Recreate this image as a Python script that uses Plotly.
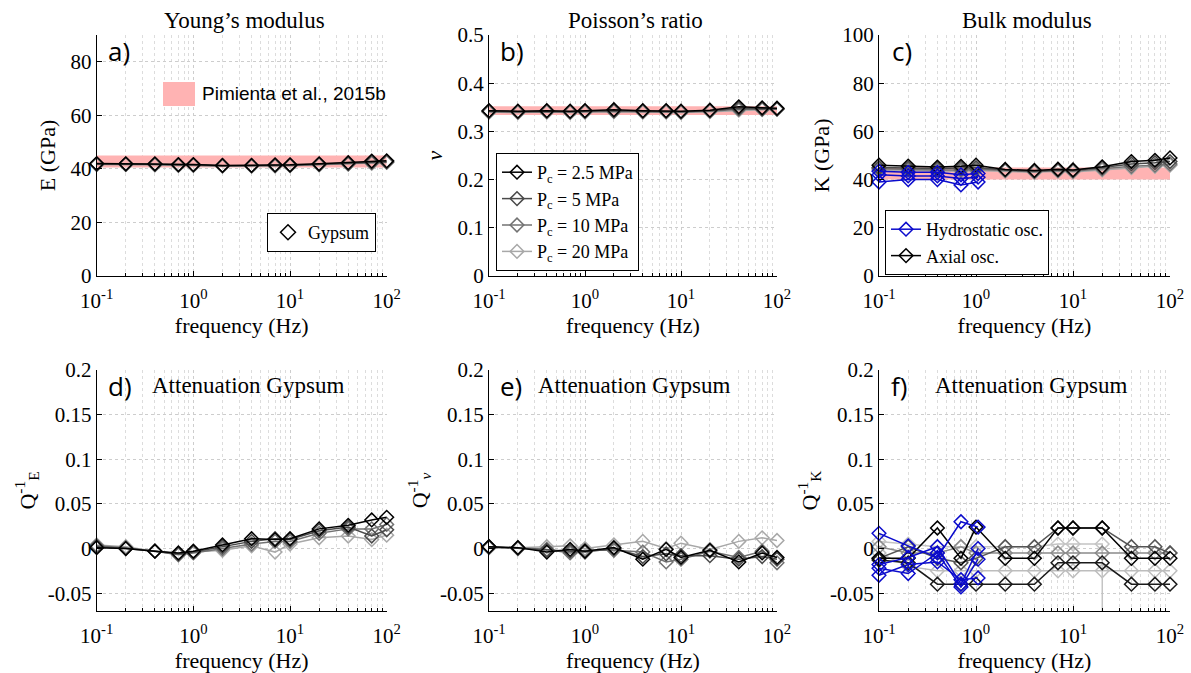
import plotly.graph_objects as go

# ---------------- data ----------------
freq = [0.1, 0.2, 0.4, 0.7, 1.0, 2, 4, 7, 10, 20, 40, 70, 100]
freq_h = [0.1, 0.2, 0.4, 0.7, 1.05]
band_x = [0.1, 100]

pressures = ["2.5", "5", "10", "20"]

# Young's modulus (GPa)
E_25 = [42.0, 41.9, 41.9, 41.6, 41.6, 41.3, 41.3, 41.5, 41.5, 41.9, 42.3, 42.9, 43.0]
E_5 = [41.8, 41.8, 41.7, 41.5, 41.5, 41.2, 41.2, 41.3, 41.4, 41.7, 42.0, 42.5, 42.7]
E_10 = [41.7, 41.7, 41.6, 41.4, 41.4, 41.1, 41.1, 41.2, 41.3, 41.6, 41.9, 42.3, 42.5]
E_20 = [41.6, 41.6, 41.5, 41.3, 41.3, 41.0, 41.0, 41.1, 41.2, 41.5, 41.8, 42.1, 42.4]
E_band = [40.5, 45.0]

# Poisson's ratio
nu_25 = [0.343, 0.342, 0.343, 0.342, 0.343, 0.345, 0.343, 0.343, 0.342, 0.344, 0.351, 0.349, 0.348]
nu_5 = [0.342, 0.341, 0.342, 0.341, 0.342, 0.343, 0.342, 0.342, 0.341, 0.343, 0.348, 0.347, 0.347]
nu_10 = [0.341, 0.340, 0.341, 0.340, 0.341, 0.342, 0.341, 0.341, 0.340, 0.342, 0.346, 0.346, 0.346]
nu_20 = [0.340, 0.339, 0.340, 0.339, 0.340, 0.341, 0.340, 0.340, 0.339, 0.341, 0.344, 0.345, 0.346]
nu_band = [0.334, 0.352]

# Bulk modulus (GPa) - axial oscillations
K_25 = [46.0, 45.6, 45.2, 45.5, 46.0, 44.2, 43.8, 44.3, 44.0, 45.3, 47.5, 48.0, 49.0]
K_5 = [45.0, 44.8, 44.6, 44.8, 45.0, 44.0, 43.5, 44.0, 43.8, 45.0, 46.5, 47.0, 47.5]
K_10 = [44.5, 44.2, 44.0, 44.0, 44.3, 43.8, 43.3, 43.8, 43.5, 44.5, 45.5, 46.0, 46.5]
K_20 = [44.0, 43.8, 43.5, 43.5, 43.8, 43.5, 43.0, 43.5, 43.2, 44.0, 45.0, 45.5, 46.0]
# Bulk modulus - hydrostatic oscillations
K_h1 = [39.0, 40.0, 40.0, 37.8, 39.0]
K_h2 = [42.0, 41.5, 41.5, 40.5, 41.0]
K_h3 = [43.5, 43.0, 43.0, 42.0, 42.5]
K_band = [40.0, 45.0]

# Attenuation of E
QE_25 = [0.001, 0.000, -0.003, -0.005, -0.003, 0.004, 0.011, 0.010, 0.011, 0.022, 0.026, 0.032, 0.035]
QE_5 = [0.002, 0.000, -0.003, -0.006, -0.004, 0.002, 0.008, 0.011, 0.010, 0.020, 0.024, 0.014, 0.021]
QE_10 = [0.003, 0.001, -0.003, -0.007, -0.005, 0.000, 0.005, 0.008, 0.008, 0.017, 0.022, 0.022, 0.027]
QE_20 = [0.004, 0.002, -0.003, -0.006, -0.004, -0.002, 0.003, -0.004, 0.005, 0.012, 0.014, 0.010, 0.015]

# Attenuation of nu
Qnu_25 = [0.002, 0.001, -0.004, -0.001, -0.003, 0.001, -0.012, -0.001, -0.010, -0.002, -0.015, -0.005, -0.010]
Qnu_5 = [0.002, 0.000, -0.002, -0.003, -0.004, 0.000, -0.009, -0.006, -0.008, -0.008, -0.012, -0.009, -0.012]
Qnu_10 = [0.001, 0.001, -0.001, -0.005, -0.002, -0.002, -0.004, -0.015, -0.012, -0.003, -0.010, -0.003, -0.016]
Qnu_20 = [0.002, 0.001, 0.002, 0.003, 0.000, 0.004, 0.008, 0.000, 0.006, -0.001, 0.008, 0.012, 0.009]

# Attenuation of K - axial runs
QK_a1 = [-0.011, -0.011, 0.023, -0.011, 0.024, -0.011, -0.011, 0.023, 0.023, 0.023, -0.011, -0.011, -0.011]
QK_a2 = [-0.013, -0.016, -0.040, -0.040, -0.040, -0.040, -0.040, -0.016, -0.016, -0.016, -0.040, -0.040, -0.040]
QK_a3 = [-0.011, 0.002, -0.011, -0.016, -0.011, 0.002, 0.002, 0.023, 0.023, 0.023, 0.002, 0.002, -0.005]
QK_a4 = [0.002, -0.005, -0.005, 0.002, -0.005, -0.005, -0.005, -0.005, -0.005, -0.005, -0.005, -0.005, -0.005]
freq_a5 = [0.1, 0.2, 0.4, 0.7, 1.0, 2, 4, 7, 10, 20, 20.2]
QK_a5 = [0.008, 0.005, 0.002, 0.002, 0.002, 0.002, 0.002, 0.005, 0.005, 0.005, -0.3]
QK_a6 = [-0.005, -0.020, -0.025, -0.025, -0.025, -0.025, -0.025, -0.025, -0.025, -0.025, -0.025, -0.025, -0.025]
# Attenuation of K - hydrostatic runs
QK_h1 = [0.017, 0.003, -0.010, 0.030, 0.024]
QK_h2 = [-0.018, -0.010, 0.002, -0.040, 0.000]
QK_h3 = [-0.030, -0.018, -0.015, -0.035, -0.033]
QK_h4 = [-0.022, -0.028, -0.005, -0.043, -0.012]

# ---------------- styling ----------------
SERIF = "Liberation Serif"
SANS = "Liberation Sans"
LETTER = "Open Sans"
col = {"2.5": "#000000", "5": "#4a4a4a", "10": "#727272", "20": "#a8a8a8"}
BLUE = "#0b0bcc"
PINK = "#ffb3b3"
MS = 10.5
LW = 1.5

xdom = [[96.7 / 1191, 386.7 / 1191], [489 / 1191, 777 / 1191], [879 / 1191, 1170 / 1191]]
ydom = [[1 - 276 / 673, 1 - 35 / 673], [1 - 611 / 673, 1 - 370 / 673]]

fig = go.Figure()


def add_line(xs, ys, color, ax, name=None, legend=None, show=False, rank=None):
    fig.add_trace(go.Scatter(
        x=xs, y=ys, mode="lines+markers",
        line=dict(color=color, width=LW),
        marker=dict(symbol="diamond-open", size=MS, color=color, line=dict(width=LW, color=color)),
        xaxis="x" + ax, yaxis="y" + ax, cliponaxis=False,
        name=name, showlegend=show, legend=legend, legendrank=rank,
    ))


def add_band(lo_hi, ax):
    fig.add_trace(go.Scatter(x=band_x, y=[lo_hi[0]] * 2, mode="lines", line=dict(width=0, color=PINK),
                             xaxis="x" + ax, yaxis="y" + ax, showlegend=False, hoverinfo="skip"))
    fig.add_trace(go.Scatter(x=band_x, y=[lo_hi[1]] * 2, mode="lines", line=dict(width=0, color=PINK),
                             fill="tonexty", fillcolor=PINK,
                             xaxis="x" + ax, yaxis="y" + ax, showlegend=False, hoverinfo="skip"))


# Panel a
add_band(E_band, "")
for p, ys in zip(pressures[::-1], [E_20, E_10, E_5, E_25]):
    add_line(freq, ys, col[p], "")
fig.add_trace(go.Scatter(x=[None], y=[None], mode="markers", name="Gypsum",
                         marker=dict(symbol="diamond-open", size=MS + 1, color="black", line=dict(width=LW)),
                         xaxis="x", yaxis="y", legend="legend", showlegend=True))

# Panel b
add_band(nu_band, "2")
for i, (p, ys) in enumerate(zip(pressures[::-1], [nu_20, nu_10, nu_5, nu_25])):
    add_line(freq, ys, col[p], "2", name="P<sub>c</sub> = %s MPa" % p, legend="legend2", show=True,
             rank=4 - i)

# Panel c
add_band(K_band, "3")
for p, ys in zip(pressures[::-1], [K_20, K_10, K_5, K_25]):
    add_line(freq, ys, col[p], "3")
for i, ys in enumerate([K_h1, K_h2, K_h3]):
    add_line(freq_h, ys, BLUE, "3", name="Hydrostatic osc.", legend="legend3", show=(i == 0), rank=1)
fig.add_trace(go.Scatter(x=[None], y=[None], mode="lines+markers", name="Axial osc.",
                         line=dict(color="black", width=LW),
                         marker=dict(symbol="diamond-open", size=MS, color="black", line=dict(width=LW)),
                         xaxis="x3", yaxis="y3", legend="legend3", showlegend=True, legendrank=2))

# Panel d
for p, ys in zip(pressures[::-1], [QE_20, QE_10, QE_5, QE_25]):
    add_line(freq, ys, col[p], "4")

# Panel e
for p, ys in zip(pressures[::-1], [Qnu_20, Qnu_10, Qnu_5, Qnu_25]):
    add_line(freq, ys, col[p], "5")

# Panel f
add_line(freq, QK_a6, "#bdbdbd", "6")
add_line(freq_a5, QK_a5, "#c4c4c4", "6")
add_line(freq, QK_a4, "#8a8a8a", "6")
add_line(freq, QK_a3, "#555555", "6")
add_line(freq, QK_a2, "#1a1a1a", "6")
add_line(freq, QK_a1, "#000000", "6")
for ys in [QK_h1, QK_h2, QK_h3, QK_h4]:
    add_line(freq_h, ys, BLUE, "6")

# ---------------- axes ----------------
minor_vals = [v * m for m in (0.1, 1, 10) for v in range(2, 10)]
GRID = "#cdcdcd"
MGRID = "#dcdcdc"


def tf():
    return dict(family=SERIF, size=21, color="black")


def ttf():
    return dict(family=SERIF, size=22, color="black")


def xaxis(i, row, c):
    return dict(
        type="log", range=[-1, 2], domain=xdom[c], anchor="y" + ("" if i == 1 else str(i)),
        tickmode="array",
        tickvals=[0.1, 1, 10, 100],
        ticktext=["10<sup>-1</sup>", "10<sup>0</sup>", "10<sup>1</sup>", "10<sup>2</sup>"],
        ticks="inside", ticklen=5, tickcolor="black", showline=True, linecolor="black", linewidth=1,
        showgrid=True, gridcolor=GRID, griddash="dot", gridwidth=1, zeroline=False,
        minor=dict(tickvals=minor_vals, ticks="inside", ticklen=3, tickcolor="black",
                   showgrid=True, gridcolor=MGRID, griddash="dot", gridwidth=1),
        tickfont=tf(), automargin=False, ticklabelstandoff=6,
        title=dict(text="frequency (Hz)", font=ttf(), standoff=2),
    )


def yaxis(i, row, c, rng, tv, tt, title, standoff):
    return dict(
        range=rng, domain=ydom[row], anchor="x" + ("" if i == 1 else str(i)),
        tickmode="array", tickvals=tv, ticktext=tt, ticks="inside", ticklen=5, tickcolor="black",
        showline=True, linecolor="black", linewidth=1, zeroline=False,
        showgrid=True, gridcolor=GRID, griddash="dot", gridwidth=1,
        tickfont=tf(), automargin=False,
        title=dict(text=title, font=ttf(), standoff=standoff),
    )


qv = [-0.05, 0, 0.05, 0.1, 0.15, 0.2]
qt = ["-0.05", "0", "0.05", "0.1", "0.15", "0.2"]
specs = [
    (1, 0, 0, [0, 90], [0, 20, 40, 60, 80], ["0", "20", "40", "60", "80"], "E (GPa)", 8),
    (2, 0, 1, [0, 0.5], [0, 0.1, 0.2, 0.3, 0.4, 0.5], ["0", "0.1", "0.2", "0.3", "0.4", "0.5"],
     "<i>ν</i>", 8),
    (3, 0, 2, [0, 100], [0, 20, 40, 60, 80, 100], ["0", "20", "40", "60", "80", "100"], "K (GPa)", 6),
    (4, 1, 0, [-0.07, 0.2], qv, qt, "Q<sup>-1</sup><sub>E</sub>", 6),
    (5, 1, 1, [-0.07, 0.2], qv, qt, "Q<sup>-1</sup><sub><i>ν</i></sub>", 6),
    (6, 1, 2, [-0.07, 0.2], qv, qt, "Q<sup>-1</sup><sub>K</sub>", 6),
]
for i, row, c, rng, tv, tt, title, so in specs:
    key = "" if i == 1 else str(i)
    fig.layout["xaxis" + key] = xaxis(i, row, c)
    fig.layout["yaxis" + key] = yaxis(i, row, c, rng, tv, tt, title, so)

# ---------------- annotations ----------------
ann = []
titles = [("Young’s modulus", ""), ("Poisson’s ratio", "2"), ("Bulk modulus", "3")]
for t, k in titles:
    ann.append(dict(text=t, xref="x%s domain" % k, yref="paper", x=0.51, y=1 - 20 / 673,
                    xanchor="center", yanchor="middle", showarrow=False,
                    font=dict(family=SERIF, size=23, color="black")))
letters = [("a)", "", 0.032), ("b)", "2", 0.031), ("c)", "3", 0.038),
           ("d)", "4", 0.032), ("e)", "5", 0.031), ("f)", "6", 0.036)]
for t, k, xx in letters:
    ann.append(dict(text=t, xref="x%s domain" % k, yref="y%s domain" % k, x=xx, y=0.935,
                    xanchor="left", yanchor="middle", showarrow=False,
                    font=dict(family=LETTER, size=26, color="black")))
for k, xx in [("4", 0.184), ("5", 0.163), ("6", 0.185)]:
    ann.append(dict(text="Attenuation Gypsum", xref="x%s domain" % k, yref="y%s domain" % k,
                    x=xx, y=0.935, xanchor="left", yanchor="middle", showarrow=False,
                    font=dict(family=SERIF, size=23, color="black")))
ann.append(dict(text="Pimienta et al., 2015b", xref="x domain", yref="y domain",
                x=0.356, y=0.757, xanchor="left", yanchor="middle", showarrow=False,
                font=dict(family=SANS, size=19, color="black")))

shapes = [dict(type="rect", xref="x domain", yref="y domain", x0=0.2286, x1=0.339, y0=0.705, y1=0.805,
               fillcolor=PINK, line=dict(width=0), layer="above")]


def legend_common():
    return dict(bgcolor="white", bordercolor="black", borderwidth=1,
                font=dict(family=SERIF, size=18, color="black"),
                xanchor="left", yanchor="top", tracegroupgap=0)


fig.update_layout(
    width=1191, height=673, margin=dict(l=0, r=0, t=0, b=0),
    paper_bgcolor="white", plot_bgcolor="white",
    annotations=ann, shapes=shapes,
    legend=dict(x=267 / 1191, y=1 - 213 / 673, **legend_common()),
    legend2=dict(x=496 / 1191, y=1 - 153 / 673, **legend_common()),
    legend3=dict(x=885 / 1191, y=1 - 210 / 673, **legend_common()),
    font=dict(family=SERIF, color="black"),
)

fig.write_html("out.html", config={"displayModeBar": False},
               post_script="document.body.style.margin='0px';document.body.style.overflow='hidden';")
